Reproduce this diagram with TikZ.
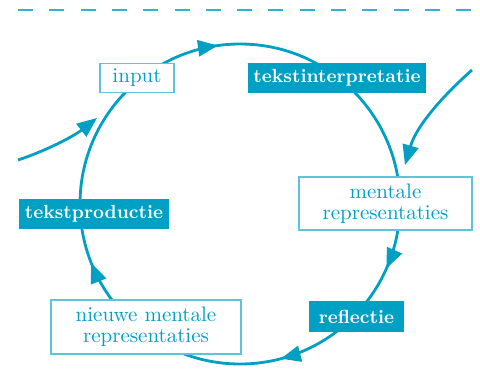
\documentclass[tikz,border=0pt]{standalone}
\usepackage{tikz}
\usetikzlibrary{decorations.markings,arrows.meta}

\definecolor{ronde}{RGB}{0,160,196}
\definecolor{rand}{RGB}{95,195,218}

\begin{document}
\begin{tikzpicture}[
        x=0.5pt, y=-0.5pt,
        font=\fontsize{10.5}{10.5}\selectfont,
        kader/.style={rectangle, draw=rand, line width=0.7pt, fill=white, text=ronde, align=center, inner sep=0pt},
        blok/.style={rectangle, fill=ronde, text=white, font=\fontsize{9.5}{10}\selectfont\bfseries, inner sep=0pt},
        pijl/.style={-{Triangle[length=10pt,width=8pt]}, ronde, line width=1.4pt},
        punt/.style={decoration={markings, mark=at position #1 with {\arrow{Triangle[length=10pt,width=8pt]}}}, decorate}
    ]
        \useasboundingbox (0,0) rectangle (480,390);

        % dashed rule on top
        \draw[ronde!80, line width=1.2pt, dash pattern=on 7.5pt off 8.15pt] (18,10) -- (474,10);

        % the cycle, clockwise
        \draw[ronde, line width=1.4pt,
              postaction={punt=0.228}, postaction={punt=0.566},
              postaction={punt=0.709}, postaction={punt=0.94}]
            (80,204) arc[start angle=180, end angle=540, radius=160];

        % Nodes
        \node[kader, minimum width=37pt, minimum height=14.5pt] (input) at (137,78) {input};
        \node[blok, minimum width=89pt, minimum height=15pt] (interpretatie) at (337,78) {tekstinterpretatie};
        \node[kader, minimum width=86.5pt, minimum height=26.5pt] (mentaal) at (385.5,203.5) {mentale\\representaties};
        \node[blok, minimum width=47.5pt, minimum height=15.5pt] (reflectie) at (356.5,316.5) {reflectie};
        \node[kader, minimum width=95pt, minimum height=27pt] (nieuw) at (146,327) {nieuwe mentale\\representaties};
        \node[blok, minimum width=75pt, minimum height=15pt] (productie) at (94,214) {tekstproductie};

        % incoming arrows
        \coordinate (links_van) at (18,160);
        \coordinate (links_naar) at (97,118);
        \coordinate (rechts_van) at (472,70);
        \coordinate (rechts_naar) at (405,165);
        \draw[pijl] (links_van) .. controls (48,150) and (74,136) .. (links_naar);
        \draw[pijl] (rechts_van) .. controls (447,92) and (417,124) .. (rechts_naar);

    \end{tikzpicture}
\end{document}
